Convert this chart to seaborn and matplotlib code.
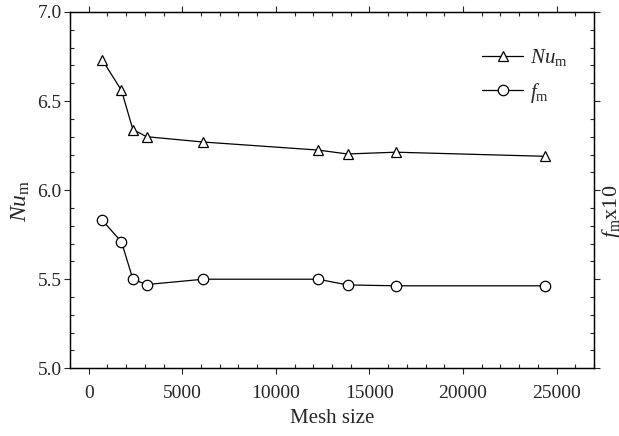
import numpy as np
import pandas as pd
import matplotlib
matplotlib.use('Agg')
import matplotlib.pyplot as plt
import seaborn as sns
from matplotlib.ticker import MultipleLocator, NullFormatter, FormatStrFormatter

# data
mesh = [730, 1750, 2360, 3090, 6130, 12250, 13830, 16400, 24360]
nu_m = [6.73, 6.56, 6.34, 6.30, 6.27, 6.225, 6.203, 6.213, 6.19]
f_m = [5.83, 5.71, 5.50, 5.47, 5.50, 5.50, 5.468, 5.463, 5.463]

df = pd.DataFrame({
    'mesh': mesh * 2,
    'value': nu_m + f_m,
    'series': ['Nu'] * len(mesh) + ['f'] * len(mesh),
})

sns.set_style('ticks')
plt.rcParams['font.family'] = ['Liberation Serif', 'DejaVu Serif']
plt.rcParams['mathtext.fontset'] = 'custom'
plt.rcParams['mathtext.rm'] = 'Liberation Serif'
plt.rcParams['mathtext.it'] = 'Liberation Serif:italic'

fig = plt.figure(figsize=(6.19, 4.36), dpi=100)
ax = fig.add_axes([0.1131, 0.1553, 0.9596 - 0.1131, 0.9725 - 0.1553])

style = dict(color='black', linewidth=0.9, markersize=7.5,
             markerfacecolor='white', markeredgecolor='black', markeredgewidth=0.9)
sns.lineplot(data=df[df.series == 'Nu'], x='mesh', y='value', ax=ax,
             marker='^', label=r'$\mathit{Nu}_{\mathrm{m}}$', **style)
sns.lineplot(data=df[df.series == 'f'], x='mesh', y='value', ax=ax,
             marker='o', label=r'$f_{\mathrm{m}}$', **style)

ax.set_xlim(-1000, 27000)
ax.set_ylim(5.0, 7.0)
ax.xaxis.set_major_locator(MultipleLocator(5000))
ax.xaxis.set_minor_locator(MultipleLocator(1000))
ax.yaxis.set_major_locator(MultipleLocator(0.5))
ax.yaxis.set_minor_locator(MultipleLocator(0.1))
ax.yaxis.set_major_formatter(FormatStrFormatter('%.1f'))

ax.set_xlabel('Mesh size', fontsize=15, labelpad=5)
ax.set_ylabel(r'$\mathit{Nu}_{\mathrm{m}}$', fontsize=17)
ax.yaxis.set_label_coords(-0.072, 0.47)

ax.tick_params(which='major', direction='out', length=4, width=0.8,
               labelsize=14, top=True, right=False)
ax.tick_params(axis='x', which='major', pad=8)
ax.tick_params(axis='y', which='major', pad=2)
ax.tick_params(which='minor', direction='in', length=3, width=0.8,
               top=True, right=False)

ax2 = ax.twinx()
ax2.set_ylim(5.0, 7.0)
ax2.yaxis.set_major_locator(MultipleLocator(0.5))
ax2.yaxis.set_minor_locator(MultipleLocator(0.1))
ax2.yaxis.set_major_formatter(NullFormatter())
ax2.tick_params(which='major', direction='out', length=4, width=0.8)
ax2.tick_params(which='minor', direction='in', length=3, width=0.8)
ax2.set_ylabel(r'$f_{\mathrm{m}}$x10', fontsize=16)
ax2.yaxis.set_label_coords(1.012, 0.44)

for a in (ax, ax2):
    for s in a.spines.values():
        s.set_linewidth(0.9)
        s.set_color('black')

ax.legend(loc='upper left', bbox_to_anchor=(0.77, 0.925), frameon=False,
          fontsize=15, handlelength=2.0, handletextpad=0.3, labelspacing=0.6,
          borderaxespad=0)

fig.savefig('out.png', dpi=100)
